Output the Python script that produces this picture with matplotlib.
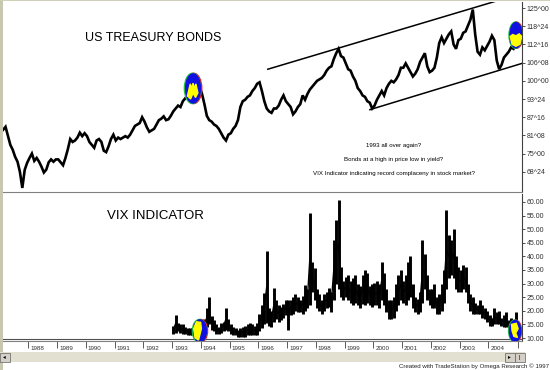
import numpy as np
import matplotlib.pyplot as plt
from matplotlib.patches import Ellipse, Polygon, Rectangle
from matplotlib.transforms import blended_transform_factory, ScaledTranslation

plt.rcParams['font.family'] = ['Liberation Sans', 'DejaVu Sans']

# US T-bond futures, monthly, Feb 1987 .. Dec 2004
bond_start = 1987.125
bond = [
    83.2, 84.2, 81.1, 78.0, 76.3, 73.9, 72.2, 68.7, 63.2, 69.4, 71.8,
    73.5, 75.0, 72.5, 73.5, 72.2, 70.5, 68.5, 69.5, 72.0, 73.0, 72.2, 73.0,
    73.0, 72.0, 71.0, 73.5, 76.5, 80.0, 79.0, 79.5, 80.5, 82.2, 81.0, 82.0,
    81.0, 79.0, 78.0, 77.0, 79.5, 80.0, 79.0, 76.0, 75.5, 77.5, 80.0, 81.5,
    79.5, 80.5, 80.0, 80.5, 81.0, 80.5, 81.5, 83.0, 84.5, 85.0, 85.5, 87.5,
    86.0, 84.0, 82.5, 83.0, 83.5, 85.0, 86.5, 87.0, 87.8, 86.5, 86.8, 88.0,
    89.5, 90.5, 91.5, 91.0, 93.0, 94.0, 95.0, 96.5, 98.0, 99.5, 98.5, 98.0,
    95.5, 92.0, 88.0, 86.5, 86.0, 85.0, 84.5, 83.5, 82.0, 80.5, 79.5, 81.5,
    82.0, 83.5, 84.5, 86.5, 91.0, 93.0, 93.5, 94.5, 95.0, 96.5, 97.5, 99.0,
    99.5, 96.5, 93.0, 90.5, 89.5, 89.0, 90.5, 90.5, 91.5, 93.5, 95.0, 93.0,
    92.0, 91.0, 88.5, 89.5, 91.0, 92.0, 95.0, 93.5, 95.5, 97.0, 98.0, 99.0,
    100.0, 100.5, 101.0, 102.0, 103.5, 104.5, 105.0, 107.5, 109.5, 111.0, 108.5, 108.0,
    106.0, 104.0, 103.5, 101.5, 100.0, 97.5, 96.5, 95.0, 94.5, 93.0, 92.5, 90.5,
    91.5, 93.5, 95.0, 96.5, 95.0, 97.5, 99.0, 100.0, 99.5, 100.5, 102.0, 104.5,
    104.5, 106.0, 104.5, 103.0, 101.5, 102.5, 104.0, 106.5, 108.0, 109.5, 105.0, 103.0,
    103.5, 104.5, 108.0, 113.0, 115.0, 113.0, 114.5, 116.0, 117.0, 112.5, 111.0, 114.0,
    114.5, 116.5, 117.0, 119.0, 121.0, 124.5, 116.0, 110.0, 109.0, 111.5, 110.5, 112.0,
    113.5, 115.5, 114.0, 107.0, 104.0, 105.5, 108.0, 109.0, 110.0, 111.5, 111.0, 112.5,
]

# VIX monthly low / high, Jan 1993 .. Dec 2004
vix_start = 1993.04
vix_lo = [
    11.5, 12.0, 12.5, 12.0, 11.5, 11.5, 11.0, 11.0, 11.0, 11.0, 11.0, 10.5,
    10.5, 12.0, 14.0, 15.0, 13.0, 12.5, 11.5, 11.5, 12.0, 12.5, 13.0, 12.5,
    11.5, 11.0, 11.0, 10.5, 10.5, 10.5, 10.5, 11.0, 11.0, 11.0, 11.0, 11.0,
    12.5, 13.5, 15.0, 15.5, 14.5, 14.0, 16.0, 17.0, 16.0, 16.5, 17.5, 18.5,
    13.0, 18.5, 19.0, 20.0, 19.5, 19.5, 19.0, 20.0, 21.0, 22.0, 27.0, 24.0,
    21.0, 20.0, 19.0, 20.0, 21.0, 21.5, 19.5, 24.0, 30.0, 28.0, 25.0, 24.0,
    25.0, 24.0, 23.0, 22.0, 23.0, 22.0, 21.0, 22.5, 22.0, 23.0, 22.0, 21.5,
    22.0, 22.0, 21.0, 24.0, 22.0, 19.5, 17.0, 17.0, 17.5, 20.0, 22.0, 24.0,
    23.0, 22.0, 24.0, 25.0, 21.0, 19.5, 19.0, 19.5, 23.0, 28.0, 24.0, 22.0,
    21.0, 21.0, 19.0, 19.0, 20.0, 23.0, 28.0, 32.0, 33.0, 32.0, 28.0, 27.0,
    27.0, 28.0, 27.0, 23.0, 20.0, 19.0, 19.0, 19.0, 19.0, 17.5, 17.0, 16.0,
    14.5, 14.5, 15.0, 15.0, 15.0, 14.5, 14.0, 14.0, 13.0, 13.0, 12.5, 12.0,
]
vix_hi = [
    14.5, 18.5, 15.5, 15.0, 15.0, 14.0, 13.5, 13.5, 13.5, 14.0, 14.0, 13.5,
    13.5, 17.0, 21.0, 25.0, 18.0, 16.5, 15.0, 14.0, 15.5, 16.0, 20.9, 17.0,
    15.0, 14.0, 13.5, 13.0, 13.5, 14.0, 14.5, 15.0, 15.5, 15.0, 14.5, 15.5,
    19.0, 22.0, 26.5, 42.0, 21.0, 20.0, 28.3, 24.0, 22.0, 21.5, 22.5, 24.0,
    24.0, 24.0, 25.0, 26.0, 25.0, 24.0, 25.5, 29.5, 28.0, 55.8, 38.0, 35.7,
    28.0, 26.0, 24.0, 26.0, 27.0, 28.5, 27.0, 46.0, 53.4, 60.7, 36.0, 31.0,
    32.4, 33.0, 31.0, 32.0, 33.0, 30.0, 29.0, 33.0, 35.0, 34.0, 29.0, 30.0,
    30.2, 31.0, 30.0, 38.0, 34.0, 28.0, 24.0, 24.0, 25.0, 30.0, 33.0, 35.0,
    31.0, 33.0, 38.0, 40.0, 30.0, 25.0, 24.5, 27.0, 46.0, 41.0, 33.0, 28.0,
    28.0, 30.0, 25.0, 26.0, 30.0, 35.0, 57.0, 48.0, 46.0, 50.0, 40.0, 36.0,
    35.0, 37.0, 36.0, 30.0, 26.0, 25.0, 23.0, 22.0, 24.0, 22.0, 21.0, 20.0,
    18.5, 17.5, 21.0, 19.5, 20.0, 17.5, 18.5, 19.5, 16.5, 17.5, 16.5, 19.5,
]

# channel lines on the bond chart (year, price)
upper_line = ([1996.33, 2004.3], [104.0, 127.5])
lower_line = ([1999.88, 2005.17], [90.1, 106.0])

bond_ticks = [125, 118.75, 112.5, 106.25, 100, 93.75, 87.5, 81.25, 75, 68.75]
bond_labels = ["125^00", "118^24", "112^16", "106^08", "100^00",
               "93^24", "87^16", "81^08", "75^00", "68^24"]
vix_ticks = [60, 55, 50, 45, 40, 35, 30, 25, 20, 15, 10]
years = list(range(1988, 2005))

notes = ["1993 all over again?",
         "Bonds at a high in price low in yield?",
         "VIX Indicator indicating record complaceny in stock market?"]

W, H = 550, 370
fig = plt.figure(figsize=(5.5, 3.7), dpi=100)
fig.patch.set_facecolor('white')


def fx(px):
    return px / W


def fy(py):
    return 1 - py / H


ax1 = fig.add_axes([fx(3), fy(192), fx(522) - fx(3), fy(2) - fy(192)])
ax2 = fig.add_axes([fx(3), fy(341), fx(522) - fx(3), fy(194) - fy(341)])

xlim = (1987.12, 2005.17)
for ax in (ax1, ax2):
    ax.set_xlim(*xlim)
    ax.set_facecolor('white')
    ax.spines['top'].set_visible(False)
    ax.spines['left'].set_visible(False)
    ax.spines['right'].set_color('#404040')
    ax.spines['right'].set_linewidth(0.8)
    ax.spines['bottom'].set_color('#808080')
    ax.spines['bottom'].set_linewidth(0.8)
    ax.yaxis.tick_right()
    ax.tick_params(axis='y', length=2.5, width=0.6, pad=1, labelsize=5,
                   colors='#303030')

# ---- bonds
t_bond = bond_start + np.arange(len(bond)) / 12
ax1.plot(t_bond, bond, color='black', lw=1.9, solid_joinstyle='miter')
ax1.plot(*upper_line, color='black', lw=1.1)
ax1.plot(*lower_line, color='black', lw=1.1)
ax1.set_ylim(61.8, 127.1)
ax1.set_yticks(bond_ticks)
ax1.set_yticklabels(bond_labels)
ax1.set_xticks([])

# ---- vix
t_vix = vix_start + np.arange(len(vix_lo)) / 12
ax2.vlines(t_vix, vix_lo, vix_hi, color='black', lw=2.1)
ax2.plot(t_vix, (np.array(vix_lo) + np.array(vix_hi)) / 2, color='black', lw=1.0)
ax2.axhline(9.65, color='#505050', lw=0.8)
ax2.set_ylim(8.9, 62.9)
ax2.set_yticks(vix_ticks)
ax2.set_yticklabels([f"{v:.2f}" for v in vix_ticks])
ax2.set_xticks(years + [2005.03])
ax2.set_xticklabels([])
ax2.tick_params(axis='x', length=5, width=0.6, direction='out', colors='#404040')
tr = blended_transform_factory(ax2.transData, ax2.transAxes) + \
    ScaledTranslation(2 / 100, -8 / 100, fig.dpi_scale_trans)
for yr in years:
    ax2.text(yr, 0, str(yr), transform=tr, fontsize=4.5, color='#303030',
             ha='left', va='center')


# ---- highlight blobs
def blob(ax, cx, cy, w, h, ypts):
    ax.add_patch(Ellipse((cx + w * 0.04, cy), w, h, color='#e02020', zorder=5))
    ax.add_patch(Ellipse((cx - w * 0.04, cy), w, h, color='#20c040', zorder=5))
    ax.add_patch(Ellipse((cx, cy), w * 0.92, h * 0.96, color='#1010e0', zorder=6))
    pts = [(cx + u * w / 2, cy + v * h / 2) for u, v in ypts]
    ax.add_patch(Polygon(pts, closed=True, color='#ffff00', zorder=7))


blob(ax1, 1993.73, 97.4, 0.56, 10.4,
     [(-0.7, -0.5), (-0.35, 0.3), (-0.15, 0.0), (0.0, 0.35), (0.15, 0.0),
      (0.35, 0.3), (0.6, -0.3), (0.3, -0.6), (0.0, -0.3), (-0.3, -0.7)])
blob(ax1, 2004.96, 115.7, 0.45, 9.0,
     [(-0.9, -0.1), (-0.5, 0.05), (0.0, -0.05), (0.5, 0.1), (0.9, -0.1),
      (0.6, -0.7), (0.0, -0.85), (-0.6, -0.7)])
blob(ax2, 1993.97, 12.6, 0.49, 8.4,
     [(-0.9, 0.2), (-0.5, 0.8), (0.1, 0.75), (0.2, 0.2), (0.0, -0.3),
      (-0.2, -0.8), (-0.7, -0.6)])
blob(ax2, 2004.93, 12.6, 0.42, 8.0,
     [(-0.6, 0.6), (0.2, 0.7), (0.5, 0.2), (0.1, -0.2), (0.4, -0.6),
      (-0.2, -0.5), (-0.5, 0.0)])

# ---- texts
fig.text(fx(85), fy(38), "US TREASURY BONDS", fontsize=9, ha='left', va='center')
fig.text(fx(107), fy(216), "VIX INDICATOR", fontsize=9.5, ha='left', va='center')
for ypix, s in zip([146, 160, 173], notes):
    fig.text(fx(394), fy(ypix), s, fontsize=4.4, ha='center', va='center')
fig.text(fx(549), fy(366), "Created with TradeStation by Omega Research \u00a9 1997",
         fontsize=4.4, ha='right', va='center', color='#202020')

# ---- window chrome: frame and scrollbar
fig.add_artist(Rectangle((0, fy(370)), fx(2.5), 1, transform=fig.transFigure,
                         color='#c8c8b0', lw=0))
fig.add_artist(Rectangle((0, fy(1.2)), 1, 1.2 / H, transform=fig.transFigure,
                         color='#d0d0b8', lw=0))
fig.add_artist(Rectangle((0, fy(362)), fx(525), (362 - 352) / H,
                         transform=fig.transFigure, facecolor='#e2e0d0', lw=0))
for x0 in (0, 505, 515):
    fig.add_artist(Rectangle((fx(x0), fy(361.5)), fx(9.5), 9 / H,
                             transform=fig.transFigure, facecolor='#d4d0c8',
                             edgecolor='#606060', lw=0.5))
fig.text(fx(4.5), fy(357), "\u25c2", fontsize=4, ha='center', va='center')
fig.text(fx(509.5), fy(357), "\u25b8", fontsize=4, ha='center', va='center')
fig.text(fx(519.5), fy(357), "|", fontsize=4, ha='center', va='center')

fig.savefig("out.png", dpi=100)
